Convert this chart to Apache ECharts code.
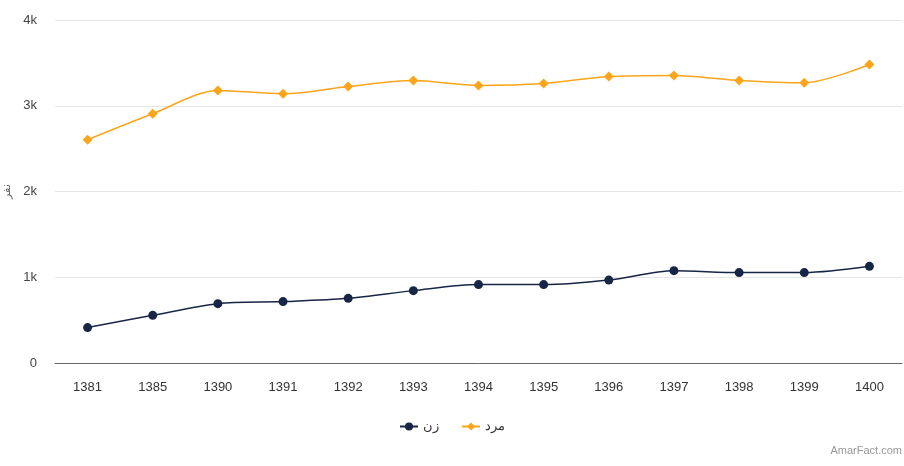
<!DOCTYPE html>
<html><head><meta charset="utf-8">
<script src="https://cdn.jsdelivr.net/npm/echarts@6/dist/echarts.min.js"></script>
<style>html,body{margin:0;padding:0;background:#fff}#c{width:904px;height:466px}</style>
</head><body><div id="c"></div>
<script>
const categories = ['1381','1385','1390','1391','1392','1393','1394','1395','1396','1397','1398','1399','1400'];
const women = [413, 556, 692, 716, 754, 844, 914, 914, 967, 1077, 1054, 1054, 1127];
const men = [2604, 2907, 3178, 3140, 3225, 3295, 3237, 3260, 3341, 3354, 3295, 3268, 3481];
const yTicks = [0, 1000, 2000, 3000, 4000];
const seriesNames = ['زن', 'مرد'];

const chart = echarts.init(document.getElementById('c'));
chart.setOption({
  animation: false,
  textStyle: { fontFamily: 'Arial, "Liberation Sans", sans-serif' },
  grid: { left: 55, right: 2, top: 20, bottom: 103, containLabel: false, outerBoundsMode: 'none' },
  legend: {
    data: seriesNames,
    bottom: 28,
    left: 'center',
    itemWidth: 18, itemHeight: 10, itemGap: 22,
    textStyle: { color: '#333', fontSize: 13 }
  },
  graphic: [{
    type: 'text', right: 2, bottom: 10,
    style: { text: 'AmarFact.com', fill: '#999', fontSize: 11, fontFamily: 'Arial, "Liberation Sans", sans-serif' }
  }],
  xAxis: {
    type: 'category', data: categories, boundaryGap: true,
    axisLine: { lineStyle: { color: '#666', width: 1 } },
    axisTick: { show: false },
    axisLabel: { color: '#333', fontSize: 13, margin: 18 }
  },
  yAxis: {
    type: 'value', min: 0, max: 4000, interval: 1000,
    name: 'نفر', nameLocation: 'middle', nameRotate: 90, nameGap: 43,
    nameTextStyle: { color: '#666', fontSize: 11 },
    axisLine: { show: false }, axisTick: { show: false },
    splitLine: { lineStyle: { color: '#e6e6e6' } },
    axisLabel: {
      color: '#444', fontSize: 13, margin: 18,
      formatter: v => yTicks.includes(v) ? (v === 0 ? '0' : (v / 1000) + 'k') : ''
    }
  },
  series: [
    {
      name: seriesNames[0], type: 'line', data: women, smooth: 0.3,
      symbol: 'circle', symbolSize: 9,
      itemStyle: { color: '#172647' },
      lineStyle: { color: '#172647', width: 1.5 }
    },
    {
      name: seriesNames[1], type: 'line', data: men, smooth: 0.3,
      symbol: 'diamond', symbolSize: 10,
      itemStyle: { color: '#fca41a' },
      lineStyle: { color: '#fca41a', width: 1.5 }
    }
  ]
});
</script>
</body></html>
